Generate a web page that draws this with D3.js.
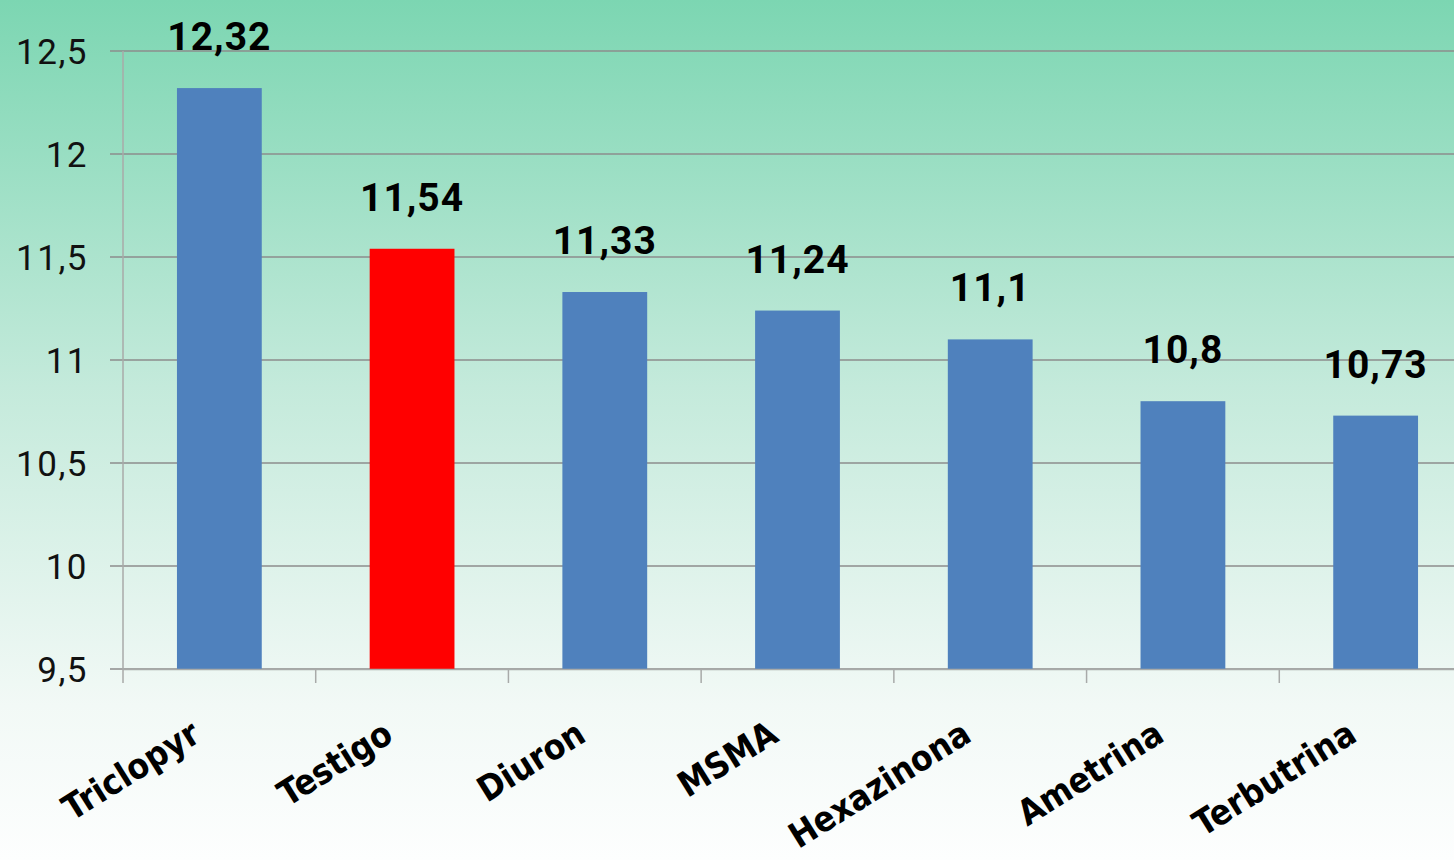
<!DOCTYPE html>
<html>
<head>
<meta charset="utf-8">
<script src="https://cdn.jsdelivr.net/npm/d3@7"></script>
<style>
  html, body { margin: 0; padding: 0; overflow: hidden; }
  svg { display: block; }
</style>
</head>
<body>
<svg id="chart" width="1454" height="860"></svg>
<script>
// Herbicide treatments and their measured values
const categories = ["Triclopyr", "Testigo", "Diuron", "MSMA", "Hexazinona", "Ametrina", "Terbutrina"];
const values = [12.32, 11.54, 11.33, 11.24, 11.1, 10.8, 10.73];
const valueLabels = ["12,32", "11,54", "11,33", "11,24", "11,1", "10,8", "10,73"];
const yTicks = [9.5, 10, 10.5, 11, 11.5, 12, 12.5];
const yTickLabels = ["9,5", "10", "10,5", "11", "11,5", "12", "12,5"];
const highlight = "Testigo";

const W = 1454, H = 860;
const svg = d3.select("#chart");

// Background gradient: green at the top fading to near white
const defs = svg.append("defs");
const grad = defs.append("linearGradient")
  .attr("id", "bg").attr("x1", 0).attr("y1", 0).attr("x2", 0).attr("y2", 1);
grad.append("stop").attr("offset", "0%").attr("stop-color", "#7cd6b2");
grad.append("stop").attr("offset", "45%").attr("stop-color", "#c4eadb");
grad.append("stop").attr("offset", "82%").attr("stop-color", "#f2f9f6");
grad.append("stop").attr("offset", "100%").attr("stop-color", "#fdfefe");
svg.append("rect").attr("width", W).attr("height", H).attr("fill", "url(#bg)");

const x = d3.scaleBand().domain(categories).range([123, 1472]).padding(0);
const y = d3.scaleLinear().domain([9.5, 12.5]).range([669, 51]);

// Horizontal gridlines
svg.append("g").selectAll("line").data(yTicks).join("line")
  .attr("x1", 110).attr("x2", W)
  .attr("y1", d => y(d)).attr("y2", d => y(d))
  .attr("stroke", "#8c8c8c").attr("stroke-width", 1.3);

// Y axis line
svg.append("line")
  .attr("x1", 123).attr("x2", 123).attr("y1", y(12.5)).attr("y2", 683)
  .attr("stroke", "#a8aaa9").attr("stroke-width", 1.5);

// Y tick labels
svg.append("g").selectAll("text").data(yTicks).join("text")
  .attr("x", 88).attr("y", d => y(d) + 13)
  .attr("text-anchor", "end")
  .attr("font-family", "Roboto, sans-serif")
  .attr("font-size", 35)
  .attr("letter-spacing", 1.5)
  .attr("fill", "#111")
  .text((d, i) => yTickLabels[i]);

// Bars
const barW = x.bandwidth() * 0.44;
svg.append("g").selectAll("rect").data(categories).join("rect")
  .attr("x", d => x(d) + (x.bandwidth() - barW) / 2)
  .attr("width", barW)
  .attr("y", (d, i) => y(values[i]))
  .attr("height", (d, i) => y(9.5) - y(values[i]))
  .attr("fill", d => d === highlight ? "#ff0000" : "#4f81bd");

// X axis baseline and category ticks
svg.append("line")
  .attr("x1", 123).attr("x2", W).attr("y1", 669.5).attr("y2", 669.5)
  .attr("stroke", "#a8aaa9").attr("stroke-width", 1.5);
svg.append("g").selectAll("line").data(categories.slice(1)).join("line")
  .attr("x1", d => x(d)).attr("x2", d => x(d))
  .attr("y1", 669).attr("y2", 683)
  .attr("stroke", "#a8aaa9").attr("stroke-width", 1.5);

// Value labels above bars
svg.append("g").selectAll("text").data(categories).join("text")
  .attr("x", d => x(d) + x.bandwidth() / 2)
  .attr("y", (d, i) => y(values[i]) - 38)
  .attr("text-anchor", "middle")
  .attr("font-family", "Roboto, sans-serif")
  .attr("font-weight", "bold")
  .attr("font-size", 39)
  .attr("letter-spacing", 1)
  .attr("fill", "#000")
  .text((d, i) => valueLabels[i]);

// Rotated category labels
svg.append("g").selectAll("text").data(categories).join("text")
  .attr("transform", d => `translate(${x(d) + x.bandwidth() / 2 - 17},${740}) rotate(-32)`)
  .attr("text-anchor", "end")
  .attr("font-family", "'DejaVu Sans Condensed', 'DejaVu Sans', sans-serif")
  .attr("font-weight", "bold")
  .attr("font-size", 35)
  .attr("fill", "#000")
  .text(d => d);
</script>
</body>
</html>
